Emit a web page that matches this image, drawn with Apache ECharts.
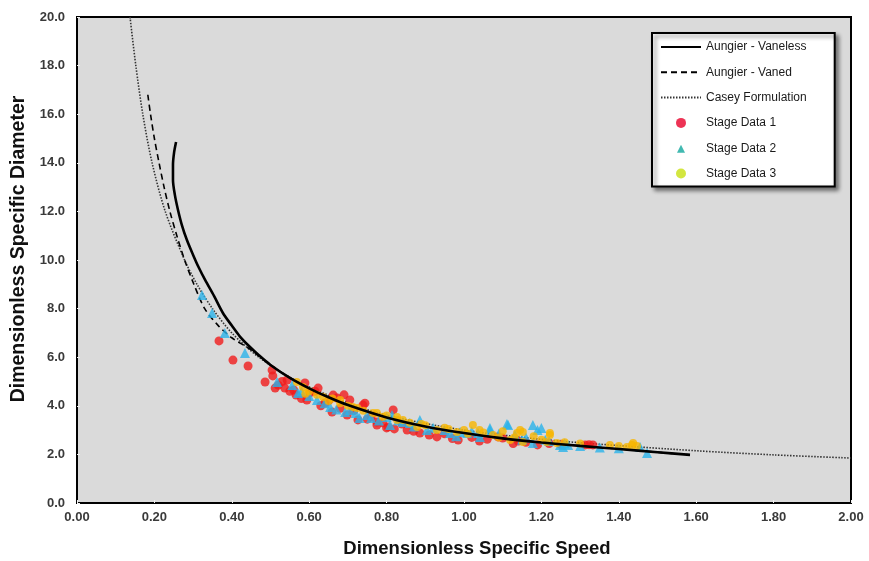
<!DOCTYPE html>
<html>
<head>
<meta charset="utf-8">
<script src="https://cdn.jsdelivr.net/npm/echarts@6/dist/echarts.min.js"></script>
<style>
html,body{margin:0;padding:0;background:#fff;}
#chart{width:869px;height:561px;}
</style>
</head>
<body>
<div id="chart"></div>
<script>
// ---- Data ----
var xTicks = [0, 0.2, 0.4, 0.6, 0.8, 1.0, 1.2, 1.4, 1.6, 1.8, 2.0];
var yTicks = [0, 2, 4, 6, 8, 10, 12, 14, 16, 18, 20];

var aungierVaneless = [
  [0.256,14.86],[0.251,14.44],[0.248,13.91],[0.248,13.29],[0.253,12.67],[0.261,12.06],
  [0.271,11.44],[0.284,10.82],[0.30,10.21],[0.314,9.71],[0.331,9.18],[0.354,8.52],
  [0.377,7.82],[0.40,7.3],[0.421,6.85],[0.445,6.45],[0.47,6.08],[0.50,5.68],
  [0.55,5.15],[0.60,4.72],[0.65,4.35],[0.70,4.03],[0.80,3.52],[0.90,3.15],
  [1.0,2.88],[1.1,2.66],[1.2,2.49],[1.3,2.35],[1.4,2.22],[1.5,2.09],[1.584,1.98]
];
var aungierVaned = [
  [0.183,16.8],[0.19,16.0],[0.20,15.0],[0.212,14.0],[0.225,13.0],[0.24,12.0],
  [0.258,11.0],[0.278,10.0],[0.302,9.0],[0.33,8.0],[0.365,7.3],[0.40,6.8],
  [0.445,6.35],[0.50,5.68],[0.55,5.15],[0.60,4.72],[0.70,4.03],[0.80,3.52],[0.90,3.15],
  [1.0,2.88],[1.1,2.66],[1.2,2.49],[1.3,2.35],[1.4,2.22],[1.5,2.09],[1.584,1.98]
];
var caseyFormulation = [
  [0.137,20],[0.152,18],[0.17,16],[0.194,14],[0.228,12],[0.278,10],[0.31,9],
  [0.35,8],[0.40,7],[0.47,6],[0.57,5],[0.72,4],[0.83,3.5],[1.0,3.0],[1.2,2.62],
  [1.35,2.42],[1.6,2.15],[1.8,1.98],[2.0,1.85]
];
var stageData1 = [
  [0.367,6.67],[0.403,5.88],[0.442,5.64],[0.486,4.98],[0.504,5.47],[0.506,5.23],
  [0.512,4.73],[0.52,4.85],[0.53,5.0],[0.537,4.73],[0.543,5.06],[0.55,4.6],[0.56,4.65],
  [0.566,4.44],[0.58,4.3],[0.589,4.94],[0.594,4.24],[0.602,4.53],[0.615,4.6],
  [0.623,4.73],[0.63,4.0],[0.64,4.1],[0.65,4.2],[0.662,4.44],[0.672,4.32],[0.69,4.45],
  [0.68,3.9],[0.705,4.24],[0.659,3.74],[0.698,3.62],[0.715,3.8],[0.739,4.03],
  [0.744,4.11],[0.726,3.42],[0.75,3.45],[0.76,3.55],[0.775,3.21],[0.775,3.33],
  [0.79,3.3],[0.804,3.13],[0.817,3.83],[0.80,3.09],[0.82,3.05],[0.84,3.25],[0.853,3.0],
  [0.87,2.95],[0.886,2.88],[0.91,2.8],[0.93,2.72],[0.95,2.85],[0.97,2.65],[0.985,2.59],
  [1.02,2.7],[1.04,2.55],[1.06,2.62],[1.088,2.72],[1.10,2.67],[1.127,2.45],[1.14,2.55],
  [1.16,2.5],[1.19,2.39],[1.22,2.45],[1.25,2.42],[1.313,2.39],[1.323,2.4],[1.333,2.39]
];
var stageData2 = [
  [0.323,8.56],[0.349,7.82],[0.382,7.0],[0.434,6.17],[0.517,4.98],[0.556,4.86],
  [0.571,4.53],[0.58,4.6],[0.60,4.4],[0.62,4.24],[0.64,4.1],[0.654,3.95],[0.67,3.85],
  [0.693,3.74],[0.705,3.83],[0.72,3.7],[0.73,3.5],[0.749,3.62],[0.76,3.5],[0.78,3.4],
  [0.80,3.54],[0.809,3.21],[0.814,3.62],[0.83,3.4],[0.842,3.33],[0.86,3.29],[0.87,3.15],
  [0.886,3.42],[0.904,3.0],[0.92,3.1],[0.95,3.0],[0.964,2.88],[0.98,2.75],[0.99,2.92],
  [1.008,2.88],[1.02,2.95],[1.036,2.88],[1.041,2.72],[1.067,3.09],[1.067,3.0],[1.09,2.85],
  [1.111,3.25],[1.114,3.21],[1.132,2.8],[1.15,2.6],[1.16,2.7],[1.178,3.21],[1.178,2.47],
  [1.19,3.0],[1.20,3.09],[1.21,2.6],[1.22,2.55],[1.248,2.39],[1.256,2.3],[1.26,2.45],
  [1.269,2.39],[1.30,2.35],[1.351,2.28],[1.40,2.25],[1.455,2.3],[1.473,2.06]
];
var stageData3 = [
  [0.568,4.98],[0.584,4.77],[0.59,4.5],[0.60,4.6],[0.62,4.45],[0.636,4.36],[0.65,4.2],
  [0.66,4.3],[0.68,4.24],[0.68,4.11],[0.70,4.0],[0.713,3.95],[0.724,3.91],[0.74,3.8],
  [0.765,3.7],[0.775,3.7],[0.79,3.55],[0.80,3.6],[0.827,3.54],[0.827,3.42],[0.842,3.42],
  [0.86,3.3],[0.879,3.13],[0.89,3.25],[0.90,3.2],[0.93,3.0],[0.95,3.1],[0.96,3.05],
  [0.982,2.92],[1.0,3.0],[1.01,2.85],[1.023,3.21],[1.04,3.0],[1.05,2.9],[1.075,2.8],
  [1.09,2.7],[1.10,2.95],[1.119,2.59],[1.13,2.7],[1.137,2.88],[1.145,3.0],[1.152,2.92],
  [1.152,2.51],[1.18,2.75],[1.20,2.6],[1.214,2.51],[1.222,2.88],[1.222,2.8],[1.24,2.47],
  [1.26,2.5],[1.30,2.45],[1.377,2.39],[1.40,2.35],[1.421,2.3],[1.434,2.39],[1.437,2.47],[1.447,2.35]
];

var seriesNames = ['Aungier - Vaneless','Aungier - Vaned','Casey Formulation','Stage Data 1','Stage Data 2','Stage Data 3'];

var chart = echarts.init(document.getElementById('chart'), null, {renderer:'canvas'});
var fontArial = 'Liberation Sans, Arial, sans-serif';
var triangleIcon = 'path://M16,9.5L20,1.5L24,9.5Z M0,0L0.01,0L0,0.01Z M40,10L39.99,10L40,9.99Z';
var option = {
  backgroundColor: '#ffffff',
  animation: false,
  grid: {
    left: 77, right: 18, top: 17, bottom: 58,
    containLabel: false, outerBoundsMode: 'none',
    show: true, backgroundColor: '#dadada', borderColor: '#000', borderWidth: 2
  },
  xAxis: {
    type: 'value', min: xTicks[0], max: xTicks[xTicks.length-1], interval: 0.2,
    name: 'Dimensionless Specific Speed', nameLocation: 'middle', nameGap: 36,
    nameTextStyle: {fontFamily: fontArial, fontWeight: 'bold', fontSize: 18.5, color: '#111', padding: [0, 0, 0, 26]},
    axisLine: {show: true, lineStyle: {color: '#000', width: 2}},
    axisTick: {show: true, inside: true, length: 3, lineStyle: {color: '#eee'}},
    splitLine: {show: false},
    axisLabel: {fontFamily: fontArial, fontWeight: 'bold', fontSize: 13, color: '#3a3a3a', margin: 8,
      formatter: function(v){return v.toFixed(2);}}
  },
  yAxis: {
    type: 'value', min: yTicks[0], max: yTicks[yTicks.length-1], interval: 2,
    name: 'Dimensionless Specific Diameter', nameLocation: 'middle', nameGap: 47,
    nameTextStyle: {fontFamily: fontArial, fontWeight: 'bold', fontSize: 19.5, color: '#111', padding: [0, 0, 0, 22]},
    axisLine: {show: true, lineStyle: {color: '#000', width: 2}},
    axisTick: {show: true, inside: true, length: 3, lineStyle: {color: '#eee'}},
    splitLine: {show: false},
    axisLabel: {fontFamily: fontArial, fontWeight: 'bold', fontSize: 13, color: '#3a3a3a', margin: 12,
      formatter: function(v){return v.toFixed(1);}}
  },
  legend: {
    orient: 'vertical', left: 652, top: 33,
    backgroundColor: '#ffffff', borderColor: '#000', borderWidth: 2,
    shadowColor: 'rgba(0,0,0,0.45)', shadowBlur: 4, shadowOffsetX: 3, shadowOffsetY: 3,
    padding: [8, 28, 7, 8],
    itemWidth: 40, itemHeight: 10, itemGap: 13.3, itemTextGap: 3,
    textStyle: {fontFamily: fontArial, fontSize: 12, color: '#1a1a1a'},
    data: [
      {name: seriesNames[0], itemStyle: {opacity: 0}},
      {name: seriesNames[1], itemStyle: {opacity: 0}},
      {name: seriesNames[2], itemStyle: {opacity: 0}},
      {name: seriesNames[3], itemStyle: {color: '#e8002a'}},
      {name: seriesNames[4], icon: triangleIcon, itemStyle: {color: '#12a89e'}},
      {name: seriesNames[5], itemStyle: {color: '#c8e010'}}
    ]
  },
  series: [
    {name: seriesNames[2], type: 'line', data: caseyFormulation, smooth: 0.3, symbol: 'none', z: 2,
      lineStyle: {color: '#333', width: 1.6, type: [1.5, 1.5]}, itemStyle: {color: '#333'}},
    {name: seriesNames[1], type: 'line', data: aungierVaned, smooth: 0.3, symbol: 'none', z: 3,
      lineStyle: {color: '#000', width: 1.6, type: [6, 4]}, itemStyle: {color: '#000'}},
    {name: seriesNames[3], type: 'scatter', data: stageData1, symbol: 'circle', symbolSize: 9, z: 4,
      itemStyle: {color: '#f01c1c'}},
    {name: seriesNames[4], type: 'scatter', data: stageData2, symbol: 'triangle', symbolSize: 10, z: 5,
      itemStyle: {color: '#2ab3ea'}},
    {name: seriesNames[5], type: 'scatter', data: stageData3, symbol: 'circle', symbolSize: 8, z: 6,
      itemStyle: {color: '#f7b500'}},
    {name: seriesNames[0], type: 'line', data: aungierVaneless, smooth: 0.3, symbol: 'none', z: 7,
      lineStyle: {color: '#000', width: 2.6}, itemStyle: {color: '#000'}}
  ]
};
chart.setOption(option);
</script>
</body>
</html>
